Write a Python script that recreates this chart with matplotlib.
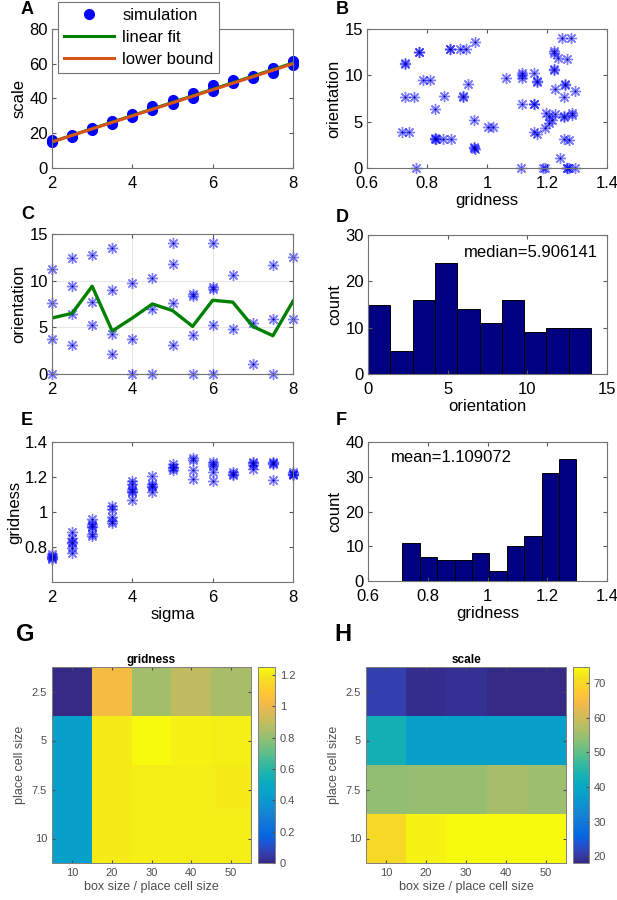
#!/usr/bin/env python

import numpy as np
import matplotlib
matplotlib.use('Agg')
import matplotlib.pyplot as plt
from matplotlib.colors import LinearSegmentedColormap
from matplotlib.ticker import FuncFormatter

plt.rcParams['font.family'] = ['Liberation Sans', 'DejaVu Sans']

# ---- A: grid scale vs sigma
sim_sigma = [2, 2, 2, 2.5, 2.5, 2.5, 3, 3, 3, 3.5, 3.5, 3.5, 4, 4, 4,
             4.5, 4.5, 4.5, 5, 5, 5, 5.5, 5.5, 5.5, 6, 6, 6, 6.5, 6.5, 6.5,
             7, 7, 7, 7.5, 7.5, 7.5, 8, 8, 8]
sim_scale = [14.8, 15.3, 15.9, 18.0, 18.6, 19.2, 21.8, 22.4, 23.1, 25.2, 26.0, 26.8,
             29.4, 30.1, 30.9, 33.3, 34.4, 35.4, 36.8, 37.8, 38.9, 40.4, 41.8, 42.9,
             44.3, 45.6, 47.6, 49.0, 49.9, 50.6, 51.6, 52.4, 53.1, 54.8, 56.2, 57.4,
             59.2, 60.4, 61.6]
bound_sigma = [2, 8]
bound_scale = [15.0, 60.0]

# ---- B: orientation vs gridness
b_gridness = [1.250, 1.281, 0.959, 0.876, 0.876, 0.909, 0.929, 0.772, 0.772, 1.222, 1.222,
              1.236, 1.266, 0.727, 0.727, 1.222, 1.222, 1.116, 1.116, 1.116, 1.155, 1.063,
              1.166, 1.166, 0.786, 0.810, 0.936, 1.261, 1.261, 1.227, 1.292, 1.255, 0.727,
              0.758, 0.857, 0.919, 0.919, 0.828, 1.116, 1.158, 1.158, 1.197, 1.205, 1.225,
              1.255, 1.255, 1.283, 1.283, 1.216, 1.205, 0.956, 1.194, 1.004, 1.019, 0.716,
              0.740, 1.155, 1.166, 0.826, 0.826, 0.830, 0.853, 0.879, 1.258, 1.272, 0.956,
              0.956, 0.960, 1.244, 0.762, 1.113, 1.185, 1.194, 1.266, 1.268, 1.274, 1.294]
b_orient = [14.0, 14.0, 13.56, 12.81, 12.85, 12.81, 12.81, 12.56, 12.50, 12.63, 12.40,
            11.91, 11.73, 11.30, 11.20, 10.58, 10.70, 10.23, 9.69, 10.05, 10.30, 9.76,
            9.26, 9.40, 9.47, 9.47, 9.04, 8.97, 9.10, 8.50, 8.32, 7.71, 7.61,
            7.61, 7.79, 7.79, 7.70, 6.35, 6.89, 6.89, 6.95, 5.92, 5.60, 5.85,
            5.56, 5.45, 5.67, 5.92, 5.20, 4.84, 5.13, 4.31, 4.38, 4.38, 3.88,
            3.88, 3.88, 3.66, 3.16, 3.25, 3.10, 3.16, 3.16, 3.12, 3.05, 2.15,
            2.25, 2.10, 1.08, 0.0, 0.0, 0.0, 0.0, 0.0, 0.0, 0.0, 0.0]

# ---- C: orientation vs sigma
c_sigma = [2, 2, 2, 2, 2.5, 2.5, 2.5, 2.5, 3, 3, 3, 3.5, 3.5, 3.5, 3.5,
           4, 4, 4, 4.5, 4.5, 4.5, 5, 5, 5, 5, 5.5, 5.5, 5.5, 5.5,
           6, 6, 6, 6, 6, 6.5, 6.5, 7, 7, 7.5, 7.5, 7.5, 8, 8]
c_orient = [11.29, 7.56, 3.76, 0.0, 12.47, 9.39, 6.38, 3.15, 12.72, 7.74, 5.20,
            13.48, 9.03, 4.30, 2.15, 9.71, 3.76, 0.0, 10.29, 6.92, 0.0,
            14.01, 11.83, 7.63, 3.08, 8.53, 8.35, 4.23, 0.0,
            14.01, 9.30, 9.10, 5.30, 0.0, 10.57, 4.84, 5.48, 1.08,
            11.68, 5.84, 0.0, 12.58, 5.84]
c_line_sigma = [2, 2.5, 3, 3.5, 4, 4.5, 5, 5.5, 6, 6.5, 7, 7.5, 8]
c_line_orient = [6.0, 6.5, 9.4, 4.6, 6.0, 7.5, 6.8, 5.1, 7.9, 7.7, 5.1, 4.1, 7.8]

# ---- D: orientation histogram
orient_edges = [0.0, 1.4, 2.8, 4.2, 5.6, 7.0, 8.4, 9.8, 11.2, 12.6, 14.0]
orient_counts = [15, 5, 16, 24, 14, 11, 16, 9, 10, 10]
orient_median = 5.906141

# ---- E: gridness vs sigma
e_sigma = [2, 2, 2, 2, 2, 2.5, 2.5, 2.5, 2.5, 2.5, 2.5, 3, 3, 3, 3, 3, 3,
           3.5, 3.5, 3.5, 3.5, 3.5, 4, 4, 4, 4, 4, 4, 4.5, 4.5, 4.5, 4.5, 4.5,
           5, 5, 5, 5, 5.5, 5.5, 5.5, 5.5, 6, 6, 6, 6, 6, 6.5, 6.5, 6.5,
           7, 7, 7, 7, 7.5, 7.5, 7.5, 7.5, 8, 8, 8, 8]
e_gridness = [0.758, 0.729, 0.744, 0.735, 0.750, 0.883, 0.854, 0.825, 0.830, 0.796, 0.767,
              0.960, 0.931, 0.912, 0.920, 0.877, 0.862, 1.036, 1.017, 0.969, 0.950, 0.940,
              1.177, 1.162, 1.129, 1.113, 1.120, 1.069, 1.204, 1.162, 1.150, 1.142, 1.113,
              1.273, 1.258, 1.250, 1.238, 1.306, 1.300, 1.238, 1.190, 1.287, 1.273, 1.265,
              1.229, 1.177, 1.229, 1.220, 1.210, 1.287, 1.280, 1.267, 1.248, 1.287, 1.277,
              1.280, 1.185, 1.229, 1.220, 1.210, 1.215]

# ---- F: gridness histogram
grid_edges = [0.715, 0.773, 0.832, 0.890, 0.948, 1.006, 1.064, 1.123, 1.181, 1.239, 1.297]
grid_counts = [11, 7, 6, 6, 8, 3, 10, 13, 31, 35]
grid_mean = 1.109072

# ---- G / H: parameter sweeps
box_sizes = [10, 20, 30, 40, 50]
place_sizes = [2.5, 5, 7.5, 10]
sweep_gridness = [[0.00, 1.03, 0.83, 0.89, 0.84],
                  [0.44, 1.21, 1.25, 1.23, 1.22],
                  [0.44, 1.21, 1.215, 1.215, 1.21],
                  [0.44, 1.21, 1.22, 1.215, 1.215]]
sweep_scale = [[21.0, 18.6, 19.0, 18.2, 18.2],
               [43.0, 38.0, 38.0, 38.0, 38.0],
               [54.0, 54.5, 54.5, 56.0, 55.0],
               [70.0, 73.5, 74.6, 74.6, 74.6]]

# parula, sampled from the 64-entry table (entry index, rgb)
parula_anchors = [
    (1, (0.2081, 0.1663, 0.5292)), (4, (0.2081, 0.2386, 0.6771)),
    (7, (0.1253, 0.3242, 0.8303)), (10, (0.0060, 0.4086, 0.8828)),
    (14, (0.0629, 0.4737, 0.8554)), (17, (0.0793, 0.5200, 0.8312)),
    (20, (0.0488, 0.5772, 0.8228)), (24, (0.0231, 0.6418, 0.7913)),
    (27, (0.0384, 0.6743, 0.7436)), (30, (0.1133, 0.7015, 0.6859)),
    (33, (0.2178, 0.7250, 0.6193)), (37, (0.3953, 0.7459, 0.5244)),
    (40, (0.5300, 0.7491, 0.4661)), (43, (0.6473, 0.7456, 0.4188)),
    (46, (0.7525, 0.7384, 0.3768)), (49, (0.8507, 0.7299, 0.3360)),
    (52, (0.9450, 0.7261, 0.2886)), (55, (0.9990, 0.7653, 0.2164)),
    (57, (0.9880, 0.8066, 0.1794)), (59, (0.9697, 0.8481, 0.1475)),
    (61, (0.9589, 0.8949, 0.1132)), (63, (0.9661, 0.9514, 0.0755)),
    (64, (0.9763, 0.9831, 0.0538))]
parula = LinearSegmentedColormap.from_list(
    'parula', [((i - 1) / 63, c) for i, c in parula_anchors])

W, H = 617, 900
FS = 12


def rect(l, t, r, b):
    return [l / W, 1 - b / H, (r - l) / W, (b - t) / H]


def style_top(ax):
    ax.tick_params(direction='in', length=3, top=True, right=True, labelsize=FS,
                   color='0.35', pad=3)
    ax.tick_params(axis='x', pad=6)
    for s in ax.spines.values():
        s.set_color('0.45')
        s.set_linewidth(0.8)
    ax.xaxis.set_major_formatter(FuncFormatter(lambda v, p: '%g' % v))
    ax.yaxis.set_major_formatter(FuncFormatter(lambda v, p: '%g' % v))


def asterisks(ax, x, y):
    ax.plot(x, y, linestyle='none', marker=(8, 2, 0), markersize=8, color='blue',
            alpha=0.5, markeredgewidth=1.0, clip_on=False)
    ax.plot(x, y, linestyle='none', marker='o', markersize=1.6, color=(0, 0, 0.6),
            markeredgewidth=0, clip_on=False)


def style_heat(ax, cax):
    ax.tick_params(direction='in', length=2.5, top=True, right=True, labelsize=8,
                   labelcolor='0.3', color='0.3')
    for s in ax.spines.values():
        s.set_color('0.5')
        s.set_linewidth(0.7)
    cax.tick_params(direction='in', length=2.5, labelsize=8, labelcolor='0.3', color='0.3')
    cax.yaxis.set_major_formatter(FuncFormatter(lambda v, p: '%g' % v))


fig = plt.figure(figsize=(W / 100, H / 100), dpi=100)

# A
axA = fig.add_axes(rect(52, 29, 293, 168))
fit = np.polyfit(sim_sigma, sim_scale, 1)
fit_x = np.array([min(sim_sigma), max(sim_sigma)])
axA.plot(sim_sigma, sim_scale, linestyle='none', marker='o', markersize=7,
         color='blue', label='simulation', clip_on=False)
axA.plot(fit_x, np.polyval(fit, fit_x), color=(0, 0.5, 0), linewidth=2.2, label='linear fit')
axA.plot(bound_sigma, bound_scale, color=(0.85, 0.33, 0.1), linewidth=2.2, label='lower bound')
axA.set_xlim(2, 8)
axA.set_ylim(0, 80)
axA.set_xticks([2, 4, 6, 8])
axA.set_yticks([0, 20, 40, 60, 80])
axA.set_ylabel('scale', fontsize=FS, labelpad=2)
style_top(axA)
leg = axA.legend(loc='upper left', bbox_to_anchor=(0.025, 1.195), borderaxespad=0,
                 fontsize=FS, handlelength=3.0, numpoints=1, fancybox=False,
                 framealpha=1, borderpad=0.35, labelspacing=0.42, handletextpad=0.5)
leg.get_frame().set_edgecolor('0.45')
leg.get_frame().set_linewidth(0.8)
leg.set_zorder(5)

# B
axB = fig.add_axes(rect(367, 29, 607, 168))
asterisks(axB, b_gridness, b_orient)
axB.set_xlim(0.6, 1.4)
axB.set_ylim(0, 15)
axB.set_xticks([0.6, 0.8, 1.0, 1.2, 1.4])
axB.set_yticks([0, 5, 10, 15])
axB.set_xlabel('gridness', fontsize=FS, labelpad=1)
axB.set_ylabel('orientation', fontsize=FS, labelpad=2)
style_top(axB)

# C
axC = fig.add_axes(rect(52, 234, 293, 374))
axC.grid(True, color='0.9', linewidth=0.8)
axC.set_axisbelow(True)
asterisks(axC, c_sigma, c_orient)
axC.plot(c_line_sigma, c_line_orient, color=(0, 0.5, 0), linewidth=2.4)
axC.set_xlim(2, 8)
axC.set_ylim(0, 15)
axC.set_xticks([2, 4, 6, 8])
axC.set_yticks([0, 5, 10, 15])
axC.set_ylabel('orientation', fontsize=FS, labelpad=2)
style_top(axC)

# D
axD = fig.add_axes(rect(368, 235, 607, 374))
axD.bar(orient_edges[:-1], orient_counts, width=np.diff(orient_edges), align='edge',
        color=(0, 0, 0.5), edgecolor='black', linewidth=0.7)
axD.text(6.0, 26.3, 'median=%f' % orient_median, fontsize=FS, va='center')
axD.set_xlim(0, 15)
axD.set_ylim(0, 30)
axD.set_xticks([0, 5, 10, 15])
axD.set_yticks([0, 10, 20, 30])
axD.set_xlabel('orientation', fontsize=FS, labelpad=1)
axD.set_ylabel('count', fontsize=FS, labelpad=2)
style_top(axD)

# E
axE = fig.add_axes(rect(52, 442, 293, 582))
asterisks(axE, e_sigma, e_gridness)
axE.set_xlim(2, 8)
axE.set_ylim(0.6, 1.4)
axE.set_xticks([2, 4, 6, 8])
axE.set_yticks([0.8, 1.0, 1.2, 1.4])
axE.set_xlabel('sigma', fontsize=FS, labelpad=1)
axE.set_ylabel('gridness', fontsize=FS, labelpad=2)
style_top(axE)

# F
axF = fig.add_axes(rect(368, 442, 607, 581))
axF.bar(grid_edges[:-1], grid_counts, width=np.diff(grid_edges), align='edge',
        color=(0, 0, 0.5), edgecolor='black', linewidth=0.7)
axF.text(0.678, 35.5, 'mean=%f' % grid_mean, fontsize=FS, va='center')
axF.set_xlim(0.6, 1.4)
axF.set_ylim(0, 40)
axF.set_xticks([0.6, 0.8, 1.0, 1.2, 1.4])
axF.set_yticks([0, 10, 20, 30, 40])
axF.set_xlabel('gridness', fontsize=FS, labelpad=1)
axF.set_ylabel('count', fontsize=FS, labelpad=2)
style_top(axF)

# G / H
extent = (5, 55, 11.25, 1.25)
for (l, r, cl, cr), vals, title, cticks, clim in [
        ((52, 251, 258, 275), sweep_gridness, 'gridness',
         [0, 0.2, 0.4, 0.6, 0.8, 1.0, 1.2], (0, 1.25)),
        ((366, 566, 573, 589), sweep_scale, 'scale',
         [20, 30, 40, 50, 60, 70], (18.1, 74.6))]:
    ax = fig.add_axes(rect(l, 667, r, 863))
    cax = fig.add_axes(rect(cl, 667, cr, 863))
    im = ax.imshow(np.array(vals), cmap=parula, extent=extent, aspect='auto',
                   interpolation='nearest', vmin=clim[0], vmax=clim[1])
    ax.set_xticks(box_sizes)
    ax.set_yticks(place_sizes)
    ax.yaxis.set_major_formatter(FuncFormatter(lambda v, p: '%g' % v))
    ax.set_title(title, fontsize=8.5, fontweight='bold', pad=3)
    ax.set_xlabel('box size / place cell size', fontsize=9, color='0.3', labelpad=2)
    ax.set_ylabel('place cell size', fontsize=9, color='0.3', labelpad=4)
    cb = fig.colorbar(im, cax=cax, ticks=cticks)
    cb.outline.set_edgecolor('0.5')
    cb.outline.set_linewidth(0.7)
    style_heat(ax, cax)

for letter, x, y, size in [('A', 21, 18, 13), ('B', 336, 18, 13), ('C', 21, 223, 13),
                           ('D', 336, 226, 13), ('E', 21, 429, 13), ('F', 336, 429, 13),
                           ('G', 16, 646, 17), ('H', 334, 646, 17)]:
    fig.text(x / W, 1 - y / H, letter, fontsize=size, fontweight='bold', ha='left', va='bottom')

fig.savefig('out.png', dpi=100)
